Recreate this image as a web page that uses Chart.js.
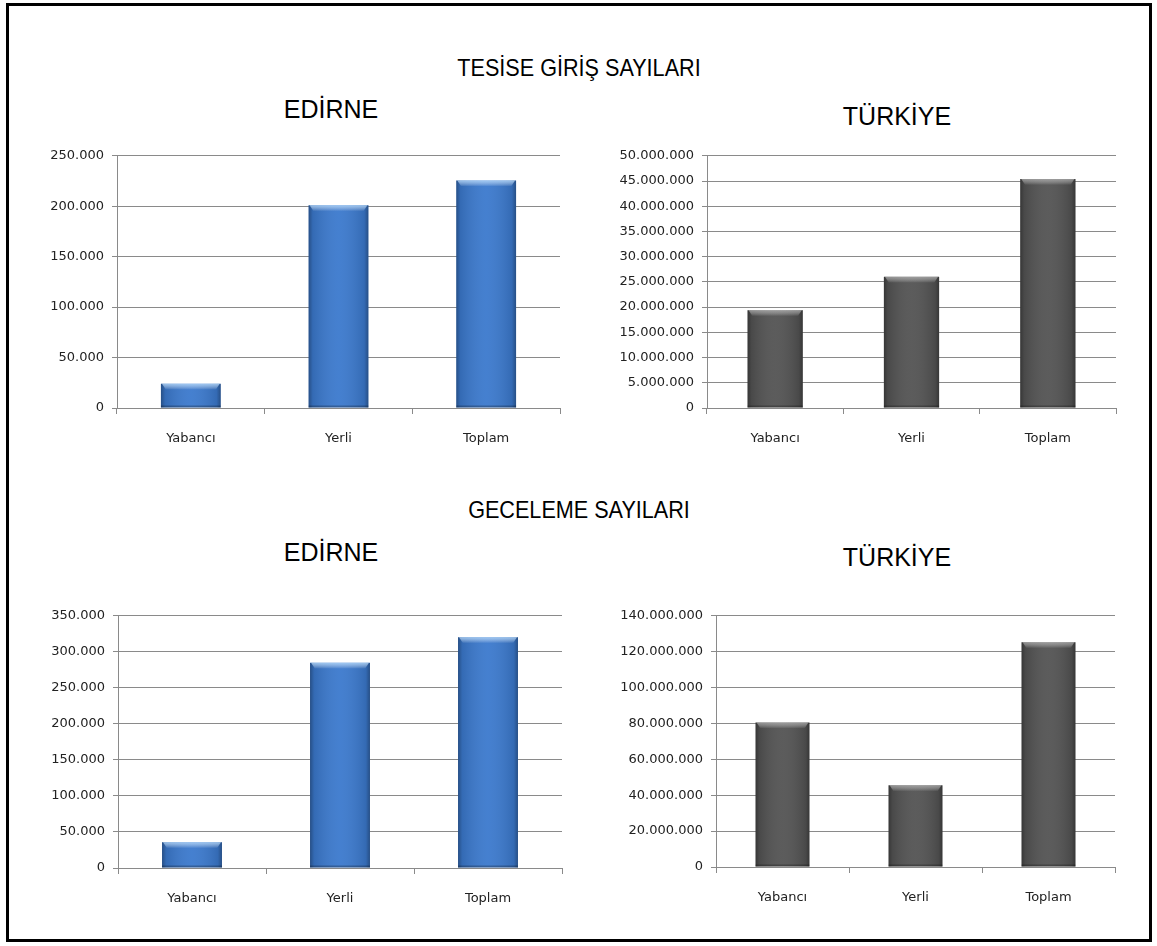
<!DOCTYPE html>
<html lang="tr">
<head>
<meta charset="utf-8">
<title>Tesise Giriş ve Geceleme Sayıları</title>
<script src="https://cdn.jsdelivr.net/npm/chart.js@4.4.1/dist/chart.umd.min.js"></script>
<style>
  html, body { margin: 0; padding: 0; background: #fff; }
  body { width: 1157px; height: 946px; position: relative; overflow: hidden; }
  .frame { position: absolute; left: 6px; top: 3px; width: 1140px; height: 933px; border: 3px solid #000; }
  .title {
    position: absolute; font-family: "Liberation Sans", Arial, sans-serif; color: #000;
    font-size: 24px; line-height: 24px; white-space: nowrap;
  }
  .sub { font-size: 25px; line-height: 25px; }
  canvas { position: absolute; }
</style>
</head>
<body>
<div class="frame"></div>

<div class="title" style="left:579px; top:68px; transform:translate(-50%,-50%) scaleX(0.9);">TESİSE GİRİŞ SAYILARI</div>
<div class="title sub" style="left:331px; top:109px; transform:translate(-50%,-50%);">EDİRNE</div>
<div class="title sub" style="left:897px; top:116px; transform:translate(-50%,-50%);">TÜRKİYE</div>

<div class="title" style="left:579px; top:510px; transform:translate(-50%,-50%) scaleX(0.9);">GECELEME SAYILARI</div>
<div class="title sub" style="left:331px; top:552px; transform:translate(-50%,-50%);">EDİRNE</div>
<div class="title sub" style="left:897px; top:557px; transform:translate(-50%,-50%);">TÜRKİYE</div>

<canvas id="giris-edirne" width="550" height="320" style="left:20px; top:140px;"></canvas>
<canvas id="giris-turkiye" width="550" height="320" style="left:580px; top:140px;"></canvas>
<canvas id="geceleme-edirne" width="550" height="320" style="left:20px; top:600px;"></canvas>
<canvas id="geceleme-turkiye" width="550" height="320" style="left:580px; top:600px;"></canvas>

<script>
// categories and values
const categories = ['Yabancı', 'Yerli', 'Toplam'];
const girisEdirne = [24000, 201000, 225500];
const girisTurkiye = [19400000, 26000000, 45400000];
const gecelemeEdirne = [35800, 284700, 320300];
const gecelemeTurkiye = [80500000, 45500000, 125300000];

// y axis ranges: [max, step]
const girisEdirneAxis = [250000, 50000];
const girisTurkiyeAxis = [50000000, 5000000];
const gecelemeEdirneAxis = [350000, 50000];
const gecelemeTurkiyeAxis = [140000000, 20000000];

const BLUE = { fill: '#3b79cd', light: 'rgba(190,225,255,0.75)' };
const GRAY = { fill: '#535353', light: 'rgba(200,200,200,0.6)' };

const GRID = '#8a8a8a';
const TEXT = '#222222';

function formatTr(v) {
  return String(Math.round(v)).replace(/\B(?=(\d{3})+(?!\d))/g, '.');
}

// shading on top of each bar, taken from the bar elements' own positions
const bevelPlugin = {
  id: 'bevel',
  afterDatasetsDraw(chart) {
    const ctx = chart.ctx;
    const style = chart.options.plugins.bevel;
    chart.getDatasetMeta(0).data.forEach(bar => {
      const { x, y, base, width } = bar.getProps(['x', 'y', 'base', 'width'], true);
      const left = x - width / 2;
      const h = base - y;
      ctx.save();
      const side = ctx.createLinearGradient(left, 0, left + width, 0);
      side.addColorStop(0, 'rgba(0,0,0,0.35)');
      side.addColorStop(0.07, 'rgba(0,0,0,0.12)');
      side.addColorStop(0.5, 'rgba(255,255,255,0.05)');
      side.addColorStop(0.93, 'rgba(0,0,0,0.12)');
      side.addColorStop(1, 'rgba(0,0,0,0.35)');
      ctx.fillStyle = side;
      ctx.fillRect(left, y, width, h);

      const bev = Math.min(6, h / 2);
      const top = ctx.createLinearGradient(0, y, 0, y + bev);
      top.addColorStop(0, style.light);
      top.addColorStop(1, 'rgba(255,255,255,0)');
      ctx.fillStyle = top;
      ctx.beginPath();
      ctx.moveTo(left + 1, y);
      ctx.lineTo(left + width - 1, y);
      ctx.lineTo(left + width - 5, y + bev);
      ctx.lineTo(left + 5, y + bev);
      ctx.closePath();
      ctx.fill();

      ctx.fillStyle = 'rgba(0,0,0,0.25)';
      ctx.fillRect(left, base - 2, width, 2);
      ctx.restore();
    });
  }
};

function makeChart(id, values, axis, color, layout) {
  const canvas = document.getElementById(id);
  return new Chart(canvas.getContext('2d'), {
    type: 'bar',
    data: {
      labels: categories,
      datasets: [{
        data: values,
        backgroundColor: color.fill,
        borderWidth: 0,
        barPercentage: 0.405,
        categoryPercentage: 1
      }]
    },
    options: {
      responsive: false,
      animation: false,
      events: [],
      layout: { padding: { top: layout.top, right: layout.right, left: 0, bottom: 0 } },
      plugins: {
        legend: { display: false },
        tooltip: { enabled: false },
        bevel: { light: color.light }
      },
      scales: {
        x: {
          offset: true,
          grid: { offset: true, drawOnChartArea: false, drawTicks: true, tickLength: 6, color: GRID, lineWidth: 1 },
          border: { display: true, color: GRID, width: 1 },
          ticks: { color: TEXT, padding: 17, font: { family: '"DejaVu Sans", Verdana, sans-serif', size: 13 } },
          afterFit: s => { s.height = layout.bottom; }
        },
        y: {
          min: 0,
          max: axis[0],
          grid: { color: GRID, lineWidth: 1, drawTicks: true, tickLength: 5 },
          border: { display: true, color: GRID, width: 1 },
          ticks: {
            stepSize: axis[1],
            color: TEXT,
            padding: 8,
            font: { family: '"DejaVu Sans", Verdana, sans-serif', size: 13 },
            callback: v => formatTr(v)
          },
          afterFit: s => { s.width = layout.yWidth; }
        }
      }
    },
    plugins: [bevelPlugin]
  });
}

makeChart('giris-edirne', girisEdirne, girisEdirneAxis, BLUE, { yWidth: 97, right: 10, top: 11, bottom: 52 });
makeChart('giris-turkiye', girisTurkiye, girisTurkiyeAxis, GRAY, { yWidth: 127, right: 14, top: 11, bottom: 52 });
makeChart('geceleme-edirne', gecelemeEdirne, gecelemeEdirneAxis, BLUE, { yWidth: 98, right: 8, top: 12, bottom: 52 });
makeChart('geceleme-turkiye', gecelemeTurkiye, gecelemeTurkiyeAxis, GRAY, { yWidth: 136, right: 15, top: 12, bottom: 53 });
</script>
</body>
</html>
